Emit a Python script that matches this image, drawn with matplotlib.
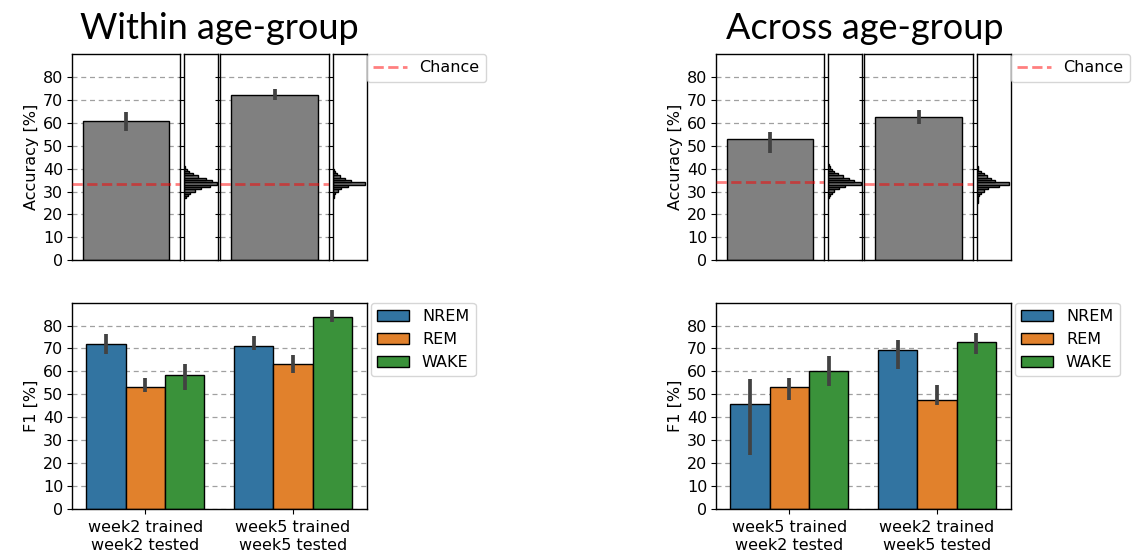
import numpy as np
import matplotlib.pyplot as plt
from matplotlib.patches import Patch

W, H = 1139, 554

# ---- top row: accuracy (mean, error range) and chance level
within_acc = [60.6, 72.3]
within_acc_lo = [56.3, 70.1]
within_acc_hi = [64.8, 74.9]
within_chance = [33.4, 33.4]

across_acc = [52.7, 62.5]
across_acc_lo = [46.9, 59.5]
across_acc_hi = [56.1, 65.7]
across_chance = [34.0, 33.4]

# shuffled-label accuracy distributions (bin edges in %, counts)
within_null1_edges = [27, 28, 29, 30, 31, 32, 33, 34, 35, 36, 37, 38, 39, 40, 41]
within_null1_counts = [2, 4, 7, 12, 20, 30, 38, 33, 25, 16, 10, 6, 3, 1]
within_null2_edges = [27, 28, 29, 30, 31, 32, 33, 34, 35, 36, 37, 38, 39, 40]
within_null2_counts = [1, 2, 3, 6, 10, 18, 38, 22, 14, 9, 5, 3, 1]
across_null1_edges = [27, 28, 29, 30, 31, 32, 33, 34, 35, 36, 37, 38, 39, 40, 41, 42]
across_null1_counts = [1, 2, 4, 7, 12, 20, 38, 30, 24, 17, 11, 7, 4, 2, 1]
across_null2_edges = [25, 26, 27, 28, 29, 30, 31, 32, 33, 34, 35, 36, 37, 38, 39, 40, 41]
across_null2_counts = [1, 1, 2, 3, 5, 8, 13, 26, 38, 22, 17, 12, 8, 5, 2, 1]

# ---- bottom row: F1 per sleep stage
stages = ["NREM", "REM", "WAKE"]
within_groups = ["week2 trained\nweek2 tested", "week5 trained\nweek5 tested"]
across_groups = ["week5 trained\nweek2 tested", "week2 trained\nweek5 tested"]

within_nrem = [71.8, 71.3]
within_nrem_lo = [67.7, 69.2]
within_nrem_hi = [76.5, 75.4]
within_rem = [53.2, 63.1]
within_rem_lo = [51.2, 59.3]
within_rem_hi = [57.0, 67.1]
within_wake = [58.3, 83.6]
within_wake_lo = [51.8, 81.6]
within_wake_hi = [63.1, 86.8]

across_nrem = [45.7, 69.3]
across_nrem_lo = [23.6, 60.9]
across_nrem_hi = [56.8, 73.9]
across_rem = [53.2, 47.6]
across_rem_lo = [47.6, 45.4]
across_rem_hi = [57.0, 54.2]
across_wake = [60.0, 72.7]
across_wake_lo = [53.6, 67.5]
across_wake_hi = [66.5, 76.9]

stage_colors = ["#3274a1", "#e1812c", "#3a923a"]
err_color = "#424242"
fs = 11.5

plt.rcParams.update({"font.size": fs, "axes.linewidth": 1.0})


def px_axes(fig, x0, x1, y0, y1):
    return fig.add_axes([x0 / W, 1 - y1 / H, (x1 - x0) / W, (y1 - y0) / H])


def style_y(ax, labels):
    ax.set_ylim(0, 90)
    ax.set_yticks(range(0, 90, 10))
    ax.tick_params(axis="y", labelsize=fs, labelleft=labels, pad=2.5)


def draw_group(dx, title_x, title, acc, lo, hi, chance, null_edges, null_counts,
               groups, f1, f1_lo, f1_hi):
    bar_x = [(71.7, 180.0), (220.0, 329.3)]
    hist_x = [(184.3, 218.3), (332.7, 366.7)]
    fig.text(title_x / W, 1 - 39 / H, title, ha="center", va="baseline",
             fontsize=26, family="Lato")
    for i in range(2):
        ax = px_axes(fig, bar_x[i][0] + dx, bar_x[i][1] + dx, 54, 260.3)
        ax.bar([0], [acc[i]], width=0.8, color="#808080", edgecolor="black",
               linewidth=1.0, zorder=2)
        ax.plot([0, 0], [lo[i], hi[i]], color=err_color, lw=2.7,
                solid_capstyle="butt", zorder=3)
        ax.axhline(chance[i], color="red", alpha=0.5, ls="--", lw=2, zorder=4,
                   label="Chance")
        ax.set_xlim(-0.5, 0.5)
        ax.set_xticks([])
        style_y(ax, i == 0)
        ax.yaxis.grid(True, color="#a0a0a0", ls=(0, (4, 3)), lw=0.9)
        ax.set_axisbelow(True)
        if i == 0:
            ax.set_ylabel("Accuracy [%]", fontsize=fs, labelpad=3)
        chance_ax = ax

        hx = px_axes(fig, hist_x[i][0] + dx, hist_x[i][1] + dx, 54, 260.3)
        edges = null_edges[i]
        hx.hist(edges[:-1], bins=edges, weights=null_counts[i],
                orientation="horizontal", color="#707070", edgecolor="black",
                linewidth=1.0)
        hx.set_xticks([])
        style_y(hx, False)

    handles, labels = chance_ax.get_legend_handles_labels()
    hx.legend(handles, labels, loc="upper left", bbox_to_anchor=(1.0, 1.0),
              borderaxespad=0, fontsize=fs, handlelength=2.1)

    ax = px_axes(fig, 71.7 + dx, 366.7 + dx, 302.7, 508.7)
    x = np.arange(len(groups))
    w = 0.8 / len(stages)
    for k, stage in enumerate(stages):
        xs = x - 0.4 + w * (k + 0.5)
        ax.bar(xs, f1[k], width=w, color=stage_colors[k], edgecolor="black",
               linewidth=1.0, zorder=2, label=stage)
        for j in range(len(groups)):
            ax.plot([xs[j], xs[j]], [f1_lo[k][j], f1_hi[k][j]], color=err_color,
                    lw=2.7, solid_capstyle="butt", zorder=3)
    ax.set_xlim(-0.5, len(groups) - 0.5)
    ax.set_xticks(x)
    ax.set_xticklabels(groups, fontsize=fs, linespacing=1.3)
    ax.tick_params(axis="x", pad=4.5)
    style_y(ax, True)
    ax.set_ylabel("F1 [%]", fontsize=fs, labelpad=3)
    ax.yaxis.grid(True, color="#a0a0a0", ls=(0, (4, 3)), lw=0.9)
    ax.set_axisbelow(True)
    ax.legend(handles=[Patch(facecolor=c, edgecolor="black", label=s)
                       for c, s in zip(stage_colors, stages)],
              loc="upper left", bbox_to_anchor=(1.014, 1.0), borderaxespad=0,
              fontsize=fs)


fig = plt.figure(figsize=(W / 100, H / 100), dpi=100)

draw_group(0, 219, "Within age-group", within_acc, within_acc_lo, within_acc_hi,
           within_chance,
           [within_null1_edges, within_null2_edges],
           [within_null1_counts, within_null2_counts],
           within_groups,
           [within_nrem, within_rem, within_wake],
           [within_nrem_lo, within_rem_lo, within_wake_lo],
           [within_nrem_hi, within_rem_hi, within_wake_hi])

draw_group(644, 865, "Across age-group", across_acc, across_acc_lo, across_acc_hi,
           across_chance,
           [across_null1_edges, across_null2_edges],
           [across_null1_counts, across_null2_counts],
           across_groups,
           [across_nrem, across_rem, across_wake],
           [across_nrem_lo, across_rem_lo, across_wake_lo],
           [across_nrem_hi, across_rem_hi, across_wake_hi])

fig.savefig("out.png", dpi=100)
